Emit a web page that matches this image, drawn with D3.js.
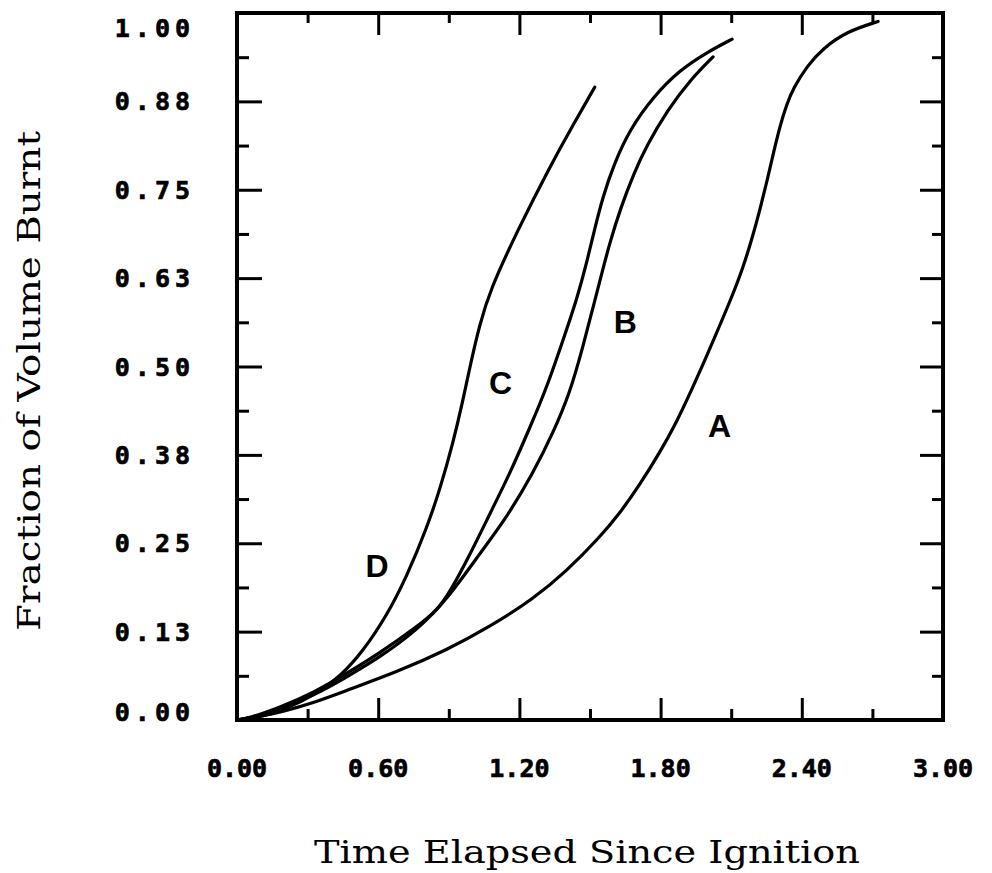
<!DOCTYPE html>
<html>
<head>
<meta charset="utf-8">
<script src="https://cdn.jsdelivr.net/npm/d3@7"></script>
<style>
  body { margin: 0; background: #fff; }
  svg { display: block; }
</style>
</head>
<body>
<script>
// values (time, fraction burnt)
const curveNames = ["A", "B", "C", "D"];

const timeA = [0, 0.127, 0.183, 0.323, 0.467, 0.68, 0.892, 1.075, 1.258, 1.402, 1.543, 1.628, 1.71, 1.80, 1.87, 1.925, 1.98, 2.023, 2.095, 2.15, 2.193, 2.222, 2.252, 2.278, 2.307, 2.335, 2.363, 2.422, 2.49, 2.592, 2.724];
const fracA = [0, 0.007, 0.011, 0.024, 0.042, 0.068, 0.099, 0.132, 0.171, 0.211, 0.259, 0.293, 0.332, 0.380, 0.423, 0.462, 0.503, 0.536, 0.592, 0.639, 0.686, 0.722, 0.762, 0.800, 0.840, 0.870, 0.893, 0.925, 0.950, 0.974, 0.988];

const timeB = [0, 0.055, 0.183, 0.323, 0.467, 0.608, 0.765, 0.892, 1.033, 1.147, 1.258, 1.343, 1.415, 1.47, 1.521, 1.555, 1.585, 1.63, 1.685, 1.74, 1.83, 1.925, 2.023];
const fracB = [0, 0.002, 0.016, 0.034, 0.061, 0.089, 0.127, 0.17, 0.236, 0.287, 0.349, 0.406, 0.463, 0.528, 0.594, 0.638, 0.676, 0.724, 0.772, 0.812, 0.863, 0.905, 0.938];

const timeC = [0, 0.055, 0.183, 0.323, 0.467, 0.608, 0.765, 0.85, 0.905, 0.99, 1.075, 1.16, 1.245, 1.317, 1.385, 1.445, 1.487, 1.52, 1.555, 1.60, 1.67, 1.77, 1.88, 2.0, 2.104];
const fracC = [0, 0.003, 0.018, 0.038, 0.066, 0.095, 0.132, 0.155, 0.181, 0.234, 0.292, 0.349, 0.414, 0.471, 0.537, 0.596, 0.648, 0.695, 0.740, 0.785, 0.836, 0.882, 0.919, 0.945, 0.963];

const timeD = [0, 0.1, 0.195, 0.34, 0.44, 0.535, 0.637, 0.72, 0.807, 0.863, 0.918, 0.956, 0.99, 1.03, 1.075, 1.19, 1.33, 1.43, 1.52];
const fracD = [0, 0.004, 0.0135, 0.037, 0.062, 0.097, 0.148, 0.202, 0.272, 0.327, 0.392, 0.446, 0.500, 0.558, 0.608, 0.691, 0.783, 0.843, 0.895];

// where each curve letter sits, in data units
const labelTime = [2.05, 1.65, 1.12, 0.595];
const labelFrac = [0.417, 0.563, 0.478, 0.219];

const xTicks = [0, 0.6, 1.2, 1.8, 2.4, 3.0];
const xTickLabels = ["0.00", "0.60", "1.20", "1.80", "2.40", "3.00"];
const yTicks = [0, 0.125, 0.25, 0.375, 0.5, 0.625, 0.75, 0.875, 1.0];
const yTickLabels = ["0.00", "0.13", "0.25", "0.38", "0.50", "0.63", "0.75", "0.88", "1.00"];

const xTitle = "Time Elapsed Since Ignition";
const yTitle = "Fraction of Volume Burnt";

let width = 992;
let height = 873;
let marginTop = 13;
let marginRight = 49;
let marginBottom = 153;
let marginLeft = 237;

const series = [
  { name: "A", t: timeA, v: fracA },
  { name: "B", t: timeB, v: fracB },
  { name: "C", t: timeC, v: fracC },
  { name: "D", t: timeD, v: fracD }
].map(s => ({ name: s.name, points: s.t.map((t, i) => [t, s.v[i]]) }));

const x = d3.scaleLinear()
  .domain([0, 3])
  .range([marginLeft, width - marginRight]);

const y = d3.scaleLinear()
  .domain([0, 1])
  .range([height - marginBottom, marginTop]);

const svg = d3.select("body")
  .append("svg")
  .attr("width", width)
  .attr("height", height)
  .attr("viewBox", [0, 0, width, height]);

svg.append("rect")
  .attr("width", width)
  .attr("height", height)
  .attr("fill", "#fff");

// minor ticks every half step, major on the labelled values
const xMinor = d3.range(0.3, 3, 0.6);
const yMinor = d3.range(0.0625, 1, 0.125);

function tickAxis(axis, scale, values, size, transform) {
  svg.append("g")
    .attr("transform", transform)
    .call(axis(scale).tickValues(values).tickSize(size).tickFormat(""))
    .call(g => g.select(".domain").remove())
    .call(g => g.selectAll(".tick line").attr("stroke", "#000").attr("stroke-width", 3));
}

const bottom = height - marginBottom;
const right = width - marginRight;

tickAxis(d3.axisBottom, x, xTicks, -22, `translate(0,${bottom})`);
tickAxis(d3.axisBottom, x, xMinor, -11, `translate(0,${bottom})`);
tickAxis(d3.axisTop, x, xTicks, -22, `translate(0,${marginTop})`);
tickAxis(d3.axisTop, x, xMinor, -10, `translate(0,${marginTop})`);
tickAxis(d3.axisLeft, y, yTicks, -25, `translate(${marginLeft},0)`);
tickAxis(d3.axisLeft, y, yMinor, -12, `translate(${marginLeft},0)`);
tickAxis(d3.axisRight, y, yTicks, -23, `translate(${right},0)`);
tickAxis(d3.axisRight, y, yMinor, -11, `translate(${right},0)`);

// frame
svg.append("rect")
  .attr("x", marginLeft)
  .attr("y", marginTop)
  .attr("width", right - marginLeft)
  .attr("height", bottom - marginTop)
  .attr("fill", "none")
  .attr("stroke", "#000")
  .attr("stroke-width", 4);

// tick labels
svg.append("g")
  .selectAll("text")
  .data(xTicks)
  .join("text")
  .attr("x", d => x(d))
  .attr("y", 777)
  .attr("text-anchor", "middle")
  .attr("font-family", "DejaVu Sans Mono, monospace")
  .attr("font-weight", "bold")
  .attr("font-size", 25)
  .attr("stroke", "#000")
  .attr("stroke-width", 0.7)
  .text((d, i) => xTickLabels[i]);

svg.append("g")
  .selectAll("text")
  .data(yTicks)
  .join("text")
  .attr("x", 195)
  .attr("y", d => Math.min(Math.max(y(d), 28), 712))
  .attr("dy", "0.36em")
  .attr("text-anchor", "end")
  .attr("font-family", "DejaVu Sans Mono, monospace")
  .attr("font-weight", "bold")
  .attr("font-size", 25)
  .attr("stroke", "#000")
  .attr("stroke-width", 0.7)
  .attr("letter-spacing", 5)
  .text((d, i) => yTickLabels[i]);

// axis titles
svg.append("text")
  .attr("x", (marginLeft + right) / 2 - 3)
  .attr("y", 863)
  .attr("text-anchor", "middle")
  .attr("font-family", "DejaVu Serif, serif")
  .attr("font-size", 32)
  .attr("textLength", 546)
  .attr("lengthAdjust", "spacingAndGlyphs")
  .text(xTitle);

svg.append("text")
  .attr("transform", `translate(40,${381}) rotate(-90)`)
  .attr("text-anchor", "middle")
  .attr("font-family", "DejaVu Serif, serif")
  .attr("font-size", 32)
  .attr("textLength", 500)
  .attr("lengthAdjust", "spacingAndGlyphs")
  .text(yTitle);

// curves (B-spline smooths out reading noise)
const line = d3.line()
  .x(d => x(d[0]))
  .y(d => y(d[1]))
  .curve(d3.curveBasis);

svg.append("g")
  .selectAll("path")
  .data(series)
  .join("path")
  .attr("fill", "none")
  .attr("stroke", "#000")
  .attr("stroke-width", 3.2)
  .attr("stroke-linecap", "round")
  .attr("d", d => line(d.points));

// curve letters
svg.append("g")
  .selectAll("text")
  .data(curveNames)
  .join("text")
  .attr("x", (d, i) => x(labelTime[i]))
  .attr("y", (d, i) => y(labelFrac[i]))
  .attr("dy", "0.36em")
  .attr("text-anchor", "middle")
  .attr("font-family", "Liberation Sans, Arial, sans-serif")
  .attr("font-weight", "bold")
  .attr("font-size", 32)
  .text(d => d);
</script>
</body>
</html>
